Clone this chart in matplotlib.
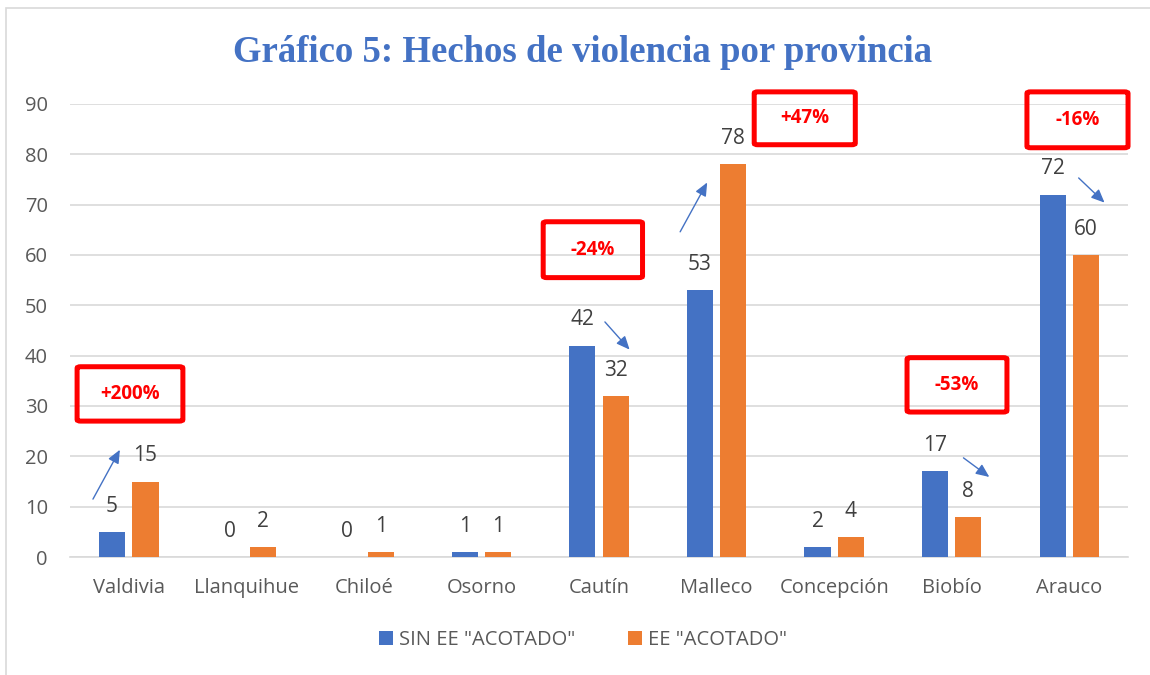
import matplotlib
matplotlib.use("Agg")
import matplotlib.pyplot as plt
import numpy as np
from matplotlib.patches import FancyBboxPatch, Rectangle

categories = ["Valdivia", "Llanquihue", "Chiloé", "Osorno", "Cautín", "Malleco", "Concepción", "Biobío", "Arauco"]
sin_ee = [5, 0, 0, 1, 42, 53, 2, 17, 72]
ee = [15, 2, 1, 1, 32, 78, 4, 8, 60]
series_names = ['SIN EE "ACOTADO"', 'EE "ACOTADO"']
yticks = [0, 10, 20, 30, 40, 50, 60, 70, 80, 90]

# annotation boxes: (label, x0, x1, y0, y1) in data coords
boxes = [("+200%", -0.44, 0.46, 27.0, 37.8),
         ("-24%", 3.525, 4.37, 55.5, 66.6),
         ("+47%", 5.32, 6.18, 81.9, 92.4),
         ("-53%", 6.62, 7.47, 28.8, 39.6),
         ("-16%", 7.64, 8.50, 81.3, 92.4)]
# arrows: (x_start, y_start, x_end, y_end)
arrows = [(-0.305, 11.5, -0.076, 21.3),
          (4.05, 46.7, 4.26, 41.2),
          (4.69, 64.6, 4.92, 74.4),
          (7.10, 19.7, 7.32, 15.9),
          (8.08, 75.3, 8.30, 70.4)]

blue = "#4472C4"
orange = "#ED7D31"

plt.rcParams['font.family'] = ['Open Sans', 'DejaVu Sans']

fig = plt.figure(figsize=(11.5, 6.75), dpi=100)
fig.patches.append(Rectangle((0.005, -0.05), 1.05, 1.038, transform=fig.transFigure,
                             fill=False, edgecolor="#D9D9D9", linewidth=1.2))
ax = fig.add_axes([0.0609, 0.1748, 0.9200, 0.6712])

x = np.arange(len(categories))
w = 0.222
off = 0.142
b1 = ax.bar(x - off, sin_ee, w, color=blue, label=series_names[0], zorder=3)
b2 = ax.bar(x + off, ee, w, color=orange, label=series_names[1], zorder=3)

for rects, vals in ((b1, sin_ee), (b2, ee)):
    for r, v in zip(rects, vals):
        ax.annotate(str(v), (r.get_x() + r.get_width() / 2, v), xytext=(0, 18.5),
                    textcoords="offset points", ha="center", va="center",
                    fontsize=15, color="#404040", zorder=4)

ax.set_xlim(-0.5, len(categories) - 0.5)
ax.set_ylim(0, 90)
ax.set_yticks(yticks)
ax.set_xticks(x)
ax.set_xticklabels(categories)
ax.tick_params(axis="both", length=0, labelsize=14.5, labelcolor="#595959")
ax.tick_params(axis="x", pad=15)
ax.tick_params(axis="y", pad=16)
ax.grid(axis="y", color="#D9D9D9", linewidth=1.2, zorder=0)
for s in ["top", "right", "left"]:
    ax.spines[s].set_visible(False)
ax.spines["bottom"].set_color("#D9D9D9")
ax.spines["bottom"].set_linewidth(1.2)

for label, x0, x1, y0, y1 in boxes:
    p = FancyBboxPatch((x0, y0), x1 - x0, y1 - y0, boxstyle="round,pad=0,rounding_size=0.03",
                       fill=False, edgecolor="#FF0000", linewidth=3.6, zorder=5,
                       clip_on=False, mutation_aspect=10)
    ax.add_patch(p)
    ax.text((x0 + x1) / 2, (y0 + y1) / 2, label, ha="center", va="center",
            fontsize=13.5, fontweight="bold", color="#FF0000", zorder=6, clip_on=False)

for xs, ys, xe, ye in arrows:
    ax.annotate("", xy=(xe, ye), xytext=(xs, ys),
                arrowprops=dict(arrowstyle="-|>,head_length=0.8,head_width=0.35",
                                color=blue, lw=1.0, shrinkA=0, shrinkB=0),
                zorder=6, annotation_clip=False)

fig.text(0.507, 0.922, "Gráfico 5: Hechos de violencia por provincia", ha="center", va="center",
         fontsize=26.5, fontweight="bold", color=blue, family=["Liberation Serif", "DejaVu Serif"])

leg = fig.legend(handles=[b1, b2], labels=series_names, loc="center", bbox_to_anchor=(0.507, 0.052),
                 ncol=2, frameon=False, fontsize=14.5, handlelength=0.7, handleheight=0.7,
                 handletextpad=0.3, columnspacing=2.6)
for t in leg.get_texts():
    t.set_color("#595959")

fig.savefig("out.png", dpi=100)
